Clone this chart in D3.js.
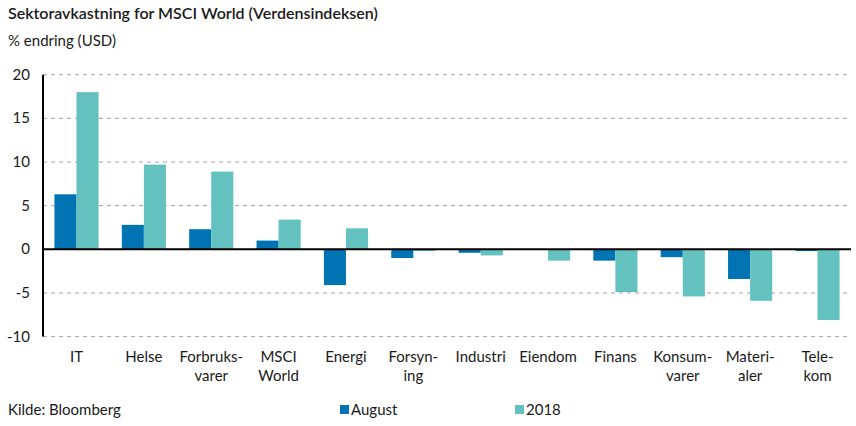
<!DOCTYPE html>
<html><head><meta charset="utf-8">
<script src="https://cdn.jsdelivr.net/npm/d3@7"></script>
<style>body{margin:0;background:#fff}svg text{font-family:Lato,"Liberation Sans",sans-serif;fill:#1a1a1a}</style>
</head><body>
<svg id="c" width="856" height="426"></svg>
<script>
const categories = [["IT"],["Helse"],["Forbruks-","varer"],["MSCI","World"],["Energi"],["Forsyn-","ing"],["Industri"],["Eiendom"],["Finans"],["Konsum-","varer"],["Materi-","aler"],["Tele-","kom"]];
const august = [6.3, 2.8, 2.3, 1.0, -4.1, -1.0, -0.4, 0.0, -1.3, -0.9, -3.4, -0.2];
const y2018 = [18.0, 9.7, 8.9, 3.4, 2.4, -0.2, -0.7, -1.3, -4.9, -5.4, -5.9, -8.1];
const yTicks = [-10, -5, 0, 5, 10, 15, 20];
const seriesNames = ["August", "2018"];
const colors = ["#0074b3", "#63c1bf"];

const svg = d3.select("#c");
const x0 = 43, x1 = 851;
const x = d3.scaleBand().domain(d3.range(categories.length)).range([x0, x1]).paddingInner(0.345).paddingOuter(0.17);
const y = d3.scaleLinear().domain([-10, 20]).range([336.6, 74.7]);

// gridlines
svg.append("g").selectAll("line").data(yTicks.filter(d => d !== 0)).join("line")
  .attr("x1", x0).attr("x2", x1).attr("y1", d => y(d)).attr("y2", d => y(d))
  .attr("stroke", "#a8a19b").attr("stroke-width", 1).attr("stroke-dasharray", "4,4");

// y tick labels
svg.append("g").selectAll("text").data(yTicks).join("text")
  .attr("x", 30).attr("y", d => y(d) + 5).attr("text-anchor", "end")
  .style("font-size", "15px").text(d => d);

// bars
const bw = x.bandwidth() / 2;
[august, y2018].forEach((vals, si) => {
  svg.append("g").selectAll("rect").data(vals).join("rect")
    .attr("x", (d, i) => x(i) + si * bw)
    .attr("width", bw)
    .attr("y", d => y(Math.max(0, d)))
    .attr("height", d => Math.abs(y(d) - y(0)))
    .attr("fill", colors[si]);
});

// zero line & y axis
svg.append("line").attr("x1", x0).attr("x2", x1).attr("y1", y(0)).attr("y2", y(0)).attr("stroke", "#000").attr("stroke-width", 2);
svg.append("line").attr("x1", x0).attr("x2", x0).attr("y1", y(20)).attr("y2", y(-10)).attr("stroke", "#000").attr("stroke-width", 2);

// category labels
const cl = svg.append("g").selectAll("text").data(categories).join("text")
  .attr("text-anchor", "middle").style("font-size", "15px");
cl.each(function(lines, i) {
  const t = d3.select(this);
  lines.forEach((s, k) => t.append("tspan").attr("x", x(i) + x.bandwidth() / 2).attr("y", 362 + k * 19).text(s));
});

// title
svg.append("text").attr("x", 8).attr("y", 19).style("font-size", "16px").style("font-weight", "600").text("Sektoravkastning for MSCI World (Verdensindeksen)");
svg.append("text").attr("x", 8).attr("y", 46).style("font-size", "15px").text("% endring (USD)");
svg.append("text").attr("x", 8).attr("y", 415).style("font-size", "15px").text("Kilde: Bloomberg");

// legend
const lx = [340, 515];
seriesNames.forEach((n, i) => {
  svg.append("rect").attr("x", lx[i]).attr("y", 405).attr("width", 9).attr("height", 9).attr("fill", colors[i]);
  svg.append("text").attr("x", lx[i] + 11).attr("y", 415).style("font-size", "15px").text(n);
});
</script>
</body></html>
